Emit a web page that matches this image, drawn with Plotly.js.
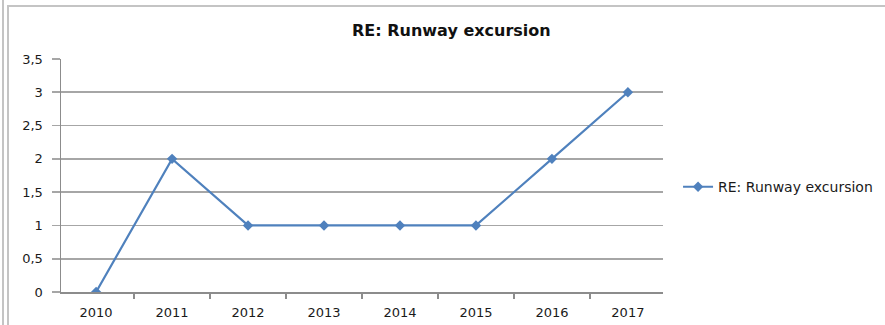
<!DOCTYPE html>
<html>
<head>
<meta charset="utf-8">
<script src="https://cdn.plot.ly/plotly-3.0.1.min.js"></script>
<style>
html,body{margin:0;padding:0;background:#fff;}
#wrap{position:relative;width:885px;height:325px;overflow:hidden;}
#chart{position:absolute;left:0;top:0;width:885px;height:325px;}
.b{position:absolute;background:#c4c4c4;}
</style>
</head>
<body>
<div id="wrap">
<div id="chart"></div>
<div class="b" style="left:2px;top:0;width:2px;height:325px;"></div>
<div class="b" style="left:7px;top:5px;width:2px;height:320px;"></div>
<div class="b" style="left:7px;top:5px;width:878px;height:2px;"></div>
</div>
<script>
var years = ['2010','2011','2012','2013','2014','2015','2016','2017'];
var counts = [0, 2, 1, 1, 1, 1, 2, 3];
var seriesName = 'RE: Runway excursion';
var chartTitle = 'RE: Runway excursion';

var font = 'DejaVu Sans, Arial, sans-serif';
var trace = {
  x: years, y: counts, type: 'scatter', mode: 'lines+markers',
  name: seriesName,
  line: {color: '#4f81bd', width: 2.2},
  marker: {symbol: 'diamond', size: 8, color: '#4f81bd'}
};
var layout = {
  width: 885, height: 325,
  margin: {l: 61, r: 222, t: 59, b: 33, autoexpand: false},
  paper_bgcolor: 'rgba(0,0,0,0)', plot_bgcolor: 'rgba(0,0,0,0)',
  separators: ', ',
  font: {family: font, size: 13, color: '#1a1a1a'},
  title: {text: '<b>' + chartTitle + '</b>', x: 0.51, xref: 'container', xanchor: 'center',
          y: 0.908, yref: 'container', yanchor: 'middle',
          font: {family: font, size: 16, color: '#111'}},
  showlegend: true,
  legend: {x: 1.025, xref: 'paper', y: 0.45, yanchor: 'middle', xanchor: 'left',
           font: {family: font, size: 14, color: '#1a1a1a'}, bgcolor: 'rgba(0,0,0,0)'},
  xaxis: {type: 'category', showgrid: false, showline: true, linecolor: '#8c8c8c', linewidth: 1.5,
          ticks: 'outside', tickson: 'boundaries', ticklen: 5, tickcolor: '#8c8c8c', tickwidth: 1.5,
          ticklabelstandoff: 8, automargin: false,
          tickfont: {family: font, size: 13, color: '#1a1a1a'}, zeroline: false, fixedrange: true},
  yaxis: {range: [0, 3.5], dtick: 0.5, tick0: 0, showgrid: true, gridcolor: '#a6a6a6', gridwidth: 1.6,
          showline: true, linecolor: '#8c8c8c', linewidth: 1.5, zeroline: false,
          ticks: 'outside', ticklen: 8, tickcolor: '#a6a6a6', tickwidth: 1.6,
          ticklabelstandoff: 6, automargin: false,
          tickfont: {family: font, size: 13, color: '#1a1a1a'}, fixedrange: true}
};
Plotly.newPlot('chart', [trace], layout, {displayModeBar: false, staticPlot: true});
</script>
</body>
</html>
